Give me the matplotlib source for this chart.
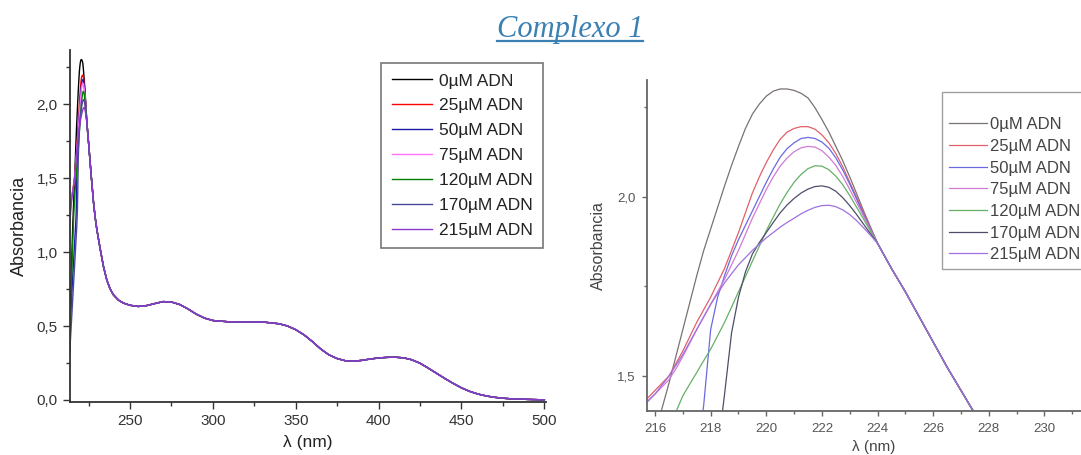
import numpy as np
import matplotlib
matplotlib.use('Agg')
import matplotlib.pyplot as plt
from matplotlib.lines import Line2D

plt.rcParams['font.family'] = ['Liberation Sans', 'DejaVu Sans']

# Datos: concentraciones de ADN
etiquetas = ['0µM ADN', '25µM ADN', '50µM ADN', '75µM ADN',
             '120µM ADN', '170µM ADN', '215µM ADN']

# zona del pico (nm), distinta para cada concentracion
lam_pico = [213.5, 214, 214.5, 215,
            215.5, 215.75, 216, 216.25, 216.5, 216.75, 217, 217.25, 217.5, 217.75,
            218, 218.25, 218.5, 218.75, 219, 219.25, 219.5, 219.75, 220, 220.25,
            220.5, 220.75, 221, 221.25, 221.5, 221.75, 222, 222.25, 222.5, 222.75,
            223, 223.25, 223.5, 223.75, 224]
abs_0 = [0.32, 0.55, 0.80, 1.02,
         1.20, 1.27, 1.34, 1.41, 1.48, 1.555, 1.63, 1.705, 1.78, 1.85,
         1.91, 1.97, 2.03, 2.087, 2.14, 2.19, 2.23, 2.258, 2.28, 2.294,
         2.30, 2.30, 2.296, 2.288, 2.275, 2.248, 2.215, 2.18, 2.14, 2.10,
         2.055, 2.008, 1.96, 1.915, 1.87]
abs_25 = [1.22, 1.30, 1.35, 1.39,
          1.42, 1.44, 1.46, 1.48, 1.50, 1.535, 1.57, 1.61, 1.65, 1.685,
          1.72, 1.76, 1.80, 1.85, 1.90, 1.955, 2.01, 2.055, 2.095, 2.13,
          2.16, 2.18, 2.19, 2.195, 2.195, 2.188, 2.172, 2.15, 2.12, 2.083,
          2.04, 1.998, 1.955, 1.912, 1.87]
abs_50 = [0.45, 0.55, 0.65, 0.75,
          0.85, 0.90, 0.95, 1.00, 1.05, 1.10, 1.15, 1.20, 1.26, 1.42,
          1.63, 1.72, 1.78, 1.835, 1.88, 1.92, 1.96, 2.00, 2.04, 2.077,
          2.11, 2.134, 2.15, 2.162, 2.165, 2.162, 2.152, 2.135, 2.108, 2.074,
          2.035, 1.993, 1.95, 1.91, 1.87]
abs_75 = [1.20, 1.28, 1.34, 1.38,
          1.415, 1.432, 1.45, 1.47, 1.49, 1.52, 1.555, 1.592, 1.63, 1.665,
          1.70, 1.735, 1.77, 1.81, 1.85, 1.895, 1.94, 1.98, 2.02, 2.055,
          2.085, 2.108, 2.125, 2.136, 2.14, 2.138, 2.128, 2.11, 2.087, 2.056,
          2.02, 1.983, 1.945, 1.907, 1.87]
abs_120 = [0.35, 0.55, 0.75, 0.93,
           1.09, 1.165, 1.24, 1.295, 1.35, 1.40, 1.445, 1.478, 1.51, 1.543,
           1.575, 1.612, 1.65, 1.692, 1.735, 1.777, 1.82, 1.862, 1.905, 1.943,
           1.98, 2.012, 2.04, 2.062, 2.078, 2.086, 2.085, 2.075, 2.057, 2.033,
           2.003, 1.97, 1.937, 1.903, 1.87]
abs_170 = [0.30, 0.40, 0.50, 0.60,
           0.70, 0.75, 0.80, 0.85, 0.90, 0.95, 1.00, 1.05, 1.10, 1.15,
           1.21, 1.29, 1.45, 1.62, 1.72, 1.79, 1.84, 1.872, 1.90, 1.928,
           1.955, 1.977, 1.995, 2.01, 2.021, 2.028, 2.03, 2.026, 2.015, 1.997,
           1.975, 1.95, 1.923, 1.896, 1.87]
abs_215 = [1.15, 1.25, 1.32, 1.37,
           1.41, 1.43, 1.45, 1.475, 1.50, 1.53, 1.56, 1.595, 1.63, 1.665,
           1.70, 1.73, 1.76, 1.785, 1.81, 1.83, 1.85, 1.868, 1.885, 1.90,
           1.915, 1.928, 1.94, 1.952, 1.962, 1.97, 1.975, 1.976, 1.972, 1.963,
           1.95, 1.933, 1.913, 1.892, 1.87]

# cola comun a todas las concentraciones
lam_cola = [224.5, 225, 225.5, 226, 226.5, 227, 227.5, 228, 229, 230, 232, 234,
            236, 238, 240, 243, 246, 250, 255, 260, 265, 270, 275, 280, 285,
            290, 295, 300, 310, 320, 330, 340, 345, 350, 355, 360, 365, 370,
            375, 380, 385, 390, 395, 400, 405, 410, 415, 420, 425, 430, 435,
            440, 445, 450, 455, 460, 465, 470, 475, 480, 490, 500]
abs_cola = [1.80, 1.735, 1.665, 1.595, 1.525, 1.46, 1.395, 1.33, 1.23, 1.15,
            1.02, 0.90, 0.81, 0.75, 0.71, 0.675, 0.655, 0.64, 0.632, 0.638,
            0.652, 0.665, 0.662, 0.645, 0.615, 0.58, 0.553, 0.537, 0.528,
            0.527, 0.527, 0.515, 0.50, 0.475, 0.44, 0.395, 0.345, 0.305, 0.28,
            0.265, 0.262, 0.268, 0.277, 0.284, 0.288, 0.289, 0.285, 0.272,
            0.248, 0.215, 0.18, 0.145, 0.112, 0.082, 0.058, 0.04, 0.027, 0.018,
            0.012, 0.008, 0.004, 0.001]

series = [abs_0, abs_25, abs_50, abs_75, abs_120, abs_170, abs_215]
lam = lam_pico + lam_cola

colores_izq = ['#000000', '#ff0000', '#1a1aa8', '#ff70ff', '#008000', '#4a4a9a', '#8a3ad0']
colores_der = ['#7a7272', '#e0606a', '#6a6ae0', '#d27ad8', '#66b066', '#4e4e6a', '#a070e0']

fig = plt.figure(figsize=(10.81, 4.55), dpi=100)

# ---- grafico izquierdo (espectro completo)
ax1 = fig.add_axes([0.0648, 0.1165, 0.4403, 0.7736])
for s, c, e in zip(series, colores_izq, etiquetas):
    ax1.plot(lam, s + abs_cola, color=c, lw=1.0, label=e)
ax1.set_xlim(213.8, 501)
ax1.set_ylim(-0.0135, 2.365)
ax1.set_xticks([250, 300, 350, 400, 450, 500])
ax1.set_xticks(np.arange(225, 500, 50), minor=True)
ax1.set_yticks([0, 0.5, 1.0, 1.5, 2.0])
ax1.set_yticks([0.25, 0.75, 1.25, 1.75, 2.25], minor=True)
ax1.set_yticklabels(['0,0', '0,5', '1,0', '1,5', '2,0'])
ax1.set_xlabel('λ (nm)', fontsize=12.5, labelpad=5, color='#222222')
ax1.set_ylabel('Absorbancia', fontsize=13, labelpad=6, color='#222222')
ax1.tick_params(which='major', direction='out', length=5, width=1, pad=4,
                labelsize=11, colors='#333333')
ax1.tick_params(which='minor', direction='out', length=3, width=1, colors='#333333')
for lado in ['top', 'right']:
    ax1.spines[lado].set_visible(False)
for lado in ['left', 'bottom']:
    ax1.spines[lado].set_color('#333333')
    ax1.spines[lado].set_linewidth(1.3)
leg1 = ax1.legend(loc='upper right', bbox_to_anchor=(543 / 1081, 1 - 63 / 455),
                  bbox_transform=fig.transFigure, fontsize=12.5, frameon=True,
                  fancybox=False, edgecolor='#555555', handlelength=2.3,
                  labelspacing=0.56, borderpad=0.6, handletextpad=0.4,
                  borderaxespad=0)
leg1.get_frame().set_linewidth(1.2)
for t in leg1.get_texts():
    t.set_color('#222222')

# ---- grafico derecho (ampliacion del pico)
ax2 = fig.add_axes([647 / 1081, 44 / 455, 453 / 1081, 331 / 455])
for s, c, e in zip(series, colores_der, etiquetas):
    ax2.plot(lam, s + abs_cola, color=c, lw=0.9, label=e)
ax2.set_xlim(215.71, 232)
ax2.set_ylim(1.4026, 2.325)
ax2.set_xticks(np.arange(216, 232, 2))
ax2.set_xticks(np.arange(217, 232, 2), minor=True)
ax2.set_yticks([1.5, 2.0])
ax2.set_yticks([1.75, 2.25], minor=True)
ax2.set_yticklabels(['1,5', '2,0'])
ax2.set_xlabel('λ (nm)', fontsize=11, color='#444444', labelpad=4)
ax2.set_ylabel('Absorbancia', fontsize=11.5, color='#444444', labelpad=8)
ax2.tick_params(which='major', direction='out', length=3.5, width=1, pad=5,
                labelsize=9.5, colors='#666666', labelcolor='#555555')
ax2.tick_params(which='minor', direction='out', length=2, width=1, colors='#666666')
for lado in ['top', 'right']:
    ax2.spines[lado].set_visible(False)
for lado in ['left', 'bottom']:
    ax2.spines[lado].set_color('#666666')
    ax2.spines[lado].set_linewidth(1.3)
leg2 = ax2.legend(loc='upper left', bbox_to_anchor=(942 / 1081, 1 - 92 / 455),
                  bbox_transform=fig.transFigure, fontsize=12, frameon=True,
                  fancybox=False, edgecolor='#888888', handlelength=2.3,
                  labelspacing=0.4, borderpad=0.4, handletextpad=0.15,
                  borderaxespad=0, title=' ', title_fontsize=9)
for t in leg2.get_texts():
    t.set_color('#444444')
leg2.get_frame().set_linewidth(1.0)

# ---- titulo subrayado
titulo = fig.text(570 / 1081, 1 - 37 / 455, 'Complexo 1', ha='center', va='baseline',
                  fontsize=22, style='italic', color='#3a80b2',
                  family=['Liberation Serif', 'DejaVu Serif'])
fig.canvas.draw()
bb = titulo.get_window_extent().transformed(fig.transFigure.inverted())
y_sub = 1 - 40.5 / 455
fig.add_artist(Line2D([bb.x0, bb.x1], [y_sub, y_sub], color='#3a80b2', lw=1.6))

plt.savefig('out.png', dpi=100)
